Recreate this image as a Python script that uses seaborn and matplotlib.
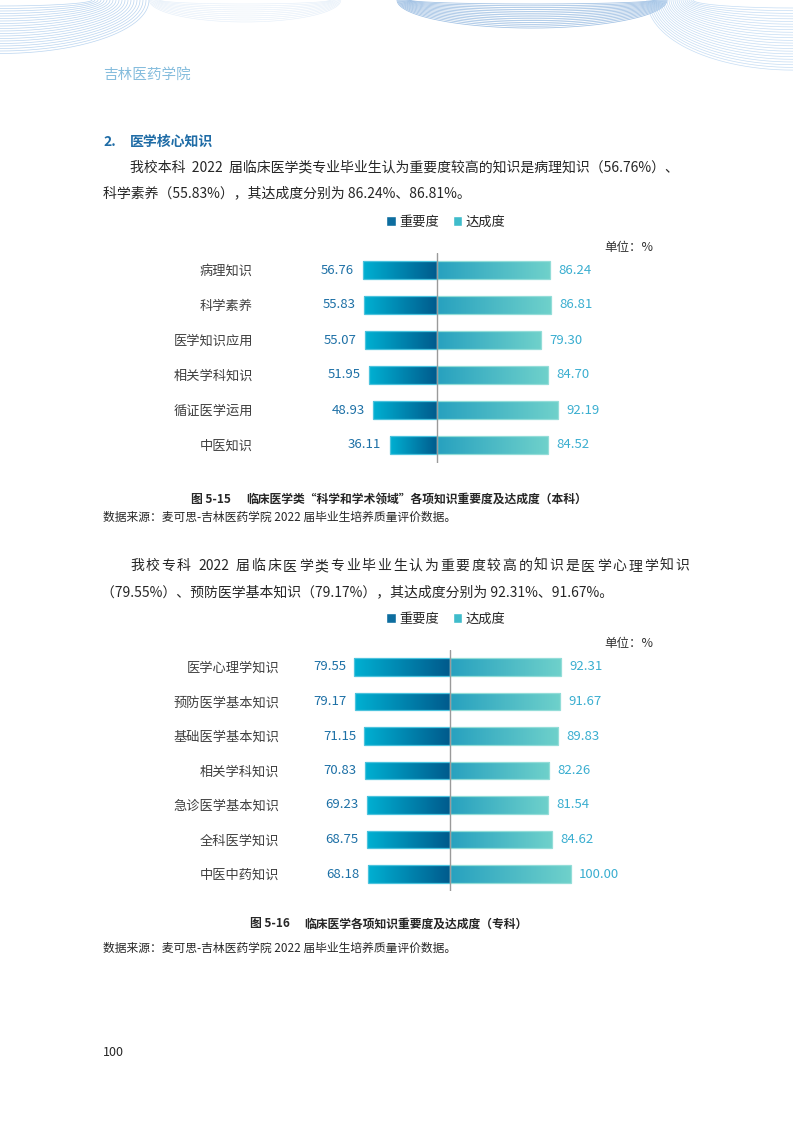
import re
import numpy as np
import pandas as pd
import seaborn as sns
import matplotlib.pyplot as plt
from matplotlib.colors import LinearSegmentedColormap
from matplotlib.patches import Patch

# chart data (本科 / 专科)
cats_1 = ['病理知识', '科学素养', '医学知识应用', '相关学科知识', '循证医学运用', '中医知识']
imp_1 = [56.76, 55.83, 55.07, 51.95, 48.93, 36.11]
ach_1 = [86.24, 86.81, 79.30, 84.70, 92.19, 84.52]

cats_2 = ['医学心理学知识', '预防医学基本知识', '基础医学基本知识', '相关学科知识',
          '急诊医学基本知识', '全科医学知识', '中医中药知识']
imp_2 = [79.55, 79.17, 71.15, 70.83, 69.23, 68.75, 68.18]
ach_2 = [92.31, 91.67, 89.83, 82.26, 81.54, 84.62, 100.00]

legend_labels = ['重要度', '达成度']

sns.set_theme(style='white')
plt.rcParams['font.family'] = ['Noto Sans CJK SC', 'DejaVu Sans']

W, H = 793, 1122
fig = plt.figure(figsize=(W / 100, H / 100), dpi=100)
fig.patch.set_facecolor('white')


def fx(x):
    return x / W


def fy(y):
    return 1 - y / H


# decorative waves at the top of the page
bg = fig.add_axes([0, 0, 1, 1], zorder=-5)
bg.set_xlim(0, W)
bg.set_ylim(H, 0)
bg.axis('off')
q = np.linspace(0, np.pi / 2, 200)
half = np.linspace(0, np.pi, 300)
# top-left fan
for k in range(20):
    a, b = 92 + k * 3.0, 6 + k * 2.5
    bg.plot(a * np.sin(q), b * np.cos(q), color='#a9caec', lw=0.5, alpha=0.8)
# faint middle arcs
for k in range(10):
    a, b = 85 + k * 1.2, 4 + k * 2.0
    bg.plot(245 + a * np.cos(half), b * np.sin(half), color='#cfe1f4', lw=0.4, alpha=0.6)
# bowl at the top right
for k in range(14):
    a, b = 122 + k * 1.0, 4 + k * 1.85
    bg.plot(532 + a * np.cos(half), b * np.sin(half), color='#8db4de', lw=0.55, alpha=0.85)
# streaks at the right edge
for k in range(24):
    a, b = 100 + k * 2.0, 8 + k * 2.7
    bg.plot(W - a * np.sin(q), b * np.cos(q), color='#b7d4f1', lw=0.5, alpha=0.8)

body_col = '#262626'


def justified(x0, x1, y, s, fontsize, **kw):
    # spread a line over x0..x1 like the justified source text
    tokens = re.findall(r'[0-9A-Za-z.%]+|.', s)
    renderer = fig.canvas.get_renderer()
    em = fontsize * 100 / 72
    items = []
    for tok in tokens:
        if tok == ' ':
            items.append((None, em * 0.25))
        elif tok.isascii():
            t = fig.text(0, fy(y), tok, va='center', ha='left', fontsize=fontsize, **kw)
            items.append((t, t.get_window_extent(renderer).width))
        else:
            t = fig.text(0, fy(y), tok, va='center', ha='center', fontsize=fontsize, **kw)
            items.append((t, em))
    gap = (x1 - x0 - sum(w for _, w in items)) / (len(items) - 1)
    x = x0
    for t, w in items:
        if t is not None:
            t.set_x(fx(x + w / 2) if t.get_ha() == 'center' else fx(x))
        x += w + gap


# page text
fig.text(fx(103), fy(75), '吉林医药学院', fontsize=10.5, color='#86bddd', va='center')
fig.text(fx(103), fy(142), '2.', fontsize=10, color='#1f6ca6', weight='bold', va='center')
fig.text(fx(130), fy(142), '医学核心知识', fontsize=10, color='#1f6ca6', weight='bold', va='center')
fig.text(fx(130), fy(167), '我校本科  2022  届临床医学类专业毕业生认为重要度较高的知识是病理知识（56.76%）、',
         fontsize=10, color=body_col, va='center')
fig.text(fx(103), fy(193), '科学素养（55.83%），其达成度分别为 86.24%、86.81%。',
         fontsize=10, color=body_col, va='center')

fig.text(fx(191), fy(499), '图 5-15', fontsize=8.5, weight='bold', color=body_col, va='center')
fig.text(fx(246), fy(499), '临床医学类“科学和学术领域”各项知识重要度及达成度（本科）',
         fontsize=8.5, weight='bold', color=body_col, va='center')
fig.text(fx(103), fy(517), '数据来源：麦可思-吉林医药学院 2022 届毕业生培养质量评价数据。',
         fontsize=8.5, color=body_col, va='center')

justified(130, 689, 566, '我校专科 2022 届临床医学类专业毕业生认为重要度较高的知识是医学心理学知识',
          10, color=body_col)
fig.text(fx(101), fy(592), '（79.55%）、预防医学基本知识（79.17%），其达成度分别为 92.31%、91.67%。',
         fontsize=10, color=body_col, va='center')

fig.text(fx(250), fy(924), '图 5-16', fontsize=8.5, weight='bold', color=body_col, va='center')
fig.text(fx(304), fy(924), '临床医学各项知识重要度及达成度（专科）',
         fontsize=8.5, weight='bold', color=body_col, va='center')
fig.text(fx(103), fy(948), '数据来源：麦可思-吉林医药学院 2022 届毕业生培养质量评价数据。',
         fontsize=8.5, color=body_col, va='center')
fig.text(fx(103), fy(1052), '100', fontsize=9, color=body_col, va='center')


def gradient_bar(ax, patch, c_left, c_right, edge):
    bb = patch.get_bbox()
    x0, x1 = sorted([bb.x0, bb.x1])
    y0, y1 = sorted([bb.y0, bb.y1])
    cmap = LinearSegmentedColormap.from_list('g', [c_left, c_right])
    grad = np.linspace(0, 1, 256).reshape(1, -1)
    im = ax.imshow(grad, cmap=cmap, extent=[x0, x1, y0, y1], aspect='auto',
                   interpolation='bilinear', zorder=1.5)
    im.set_clip_path(patch)
    patch.set_facecolor('none')
    patch.set_edgecolor(edge)
    patch.set_linewidth(0.9)
    patch.set_zorder(2)


def butterfly(cats, imp, ach, top_px, row_px, center_px, scale_px,
              left_px, right_px, label_right_px, legend_y, unit_y):
    n = len(cats)
    ax = fig.add_axes([fx(left_px), fy(top_px + n * row_px),
                       (right_px - left_px) / W, n * row_px / H])
    df = pd.DataFrame({'cat': cats, 'imp': -np.array(imp), 'ach': ach})
    sns.barplot(data=df, x='imp', y='cat', order=cats, orient='h', width=0.5,
                color='#0a6a9a', saturation=1, errorbar=None, ax=ax)
    sns.barplot(data=df, x='ach', y='cat', order=cats, orient='h', width=0.5,
                color='#3fbccb', saturation=1, errorbar=None, ax=ax)
    bars = list(ax.patches)
    for p in bars[:n]:
        gradient_bar(ax, p, '#00b0d2', '#005a8c', '#4cc3dd')
    for p in bars[n:]:
        gradient_bar(ax, p, '#27a1bf', '#6fd1cb', '#93ddd8')
    for i in range(n):
        ax.annotate(f'{imp[i]:.2f}', (-imp[i], i), xytext=(-6, 0), textcoords='offset points',
                    ha='right', va='center', fontsize=9.5, color='#1d70a6')
        ax.annotate(f'{ach[i]:.2f}', (ach[i], i), xytext=(6, 0), textcoords='offset points',
                    ha='left', va='center', fontsize=9.5, color='#3aaed0')
    ax.axvline(0, color='#9a9a9a', lw=1, zorder=5)
    ax.set_xlim((left_px - center_px) / scale_px, (right_px - center_px) / scale_px)
    ax.set_ylim(n - 0.5, -0.5)
    ax.set_xticks([])
    ax.set_xlabel('')
    ax.set_ylabel('')
    for s in ax.spines.values():
        s.set_visible(False)
    ax.tick_params(axis='y', length=0, pad=(left_px - label_right_px) * 0.72,
                   labelsize=9.5, labelcolor='#404040')
    ax.set_facecolor('none')
    fig.legend(handles=[Patch(facecolor='#0d6d9f'), Patch(facecolor='#3fbccb')],
               labels=legend_labels, loc='center', bbox_to_anchor=(fx(446), fy(legend_y)),
               ncol=2, frameon=False, fontsize=9.5, handlelength=0.7, handleheight=0.7,
               handletextpad=0.3, columnspacing=1.0, borderpad=0)
    fig.text(fx(604), fy(unit_y), '单位：%', fontsize=9, color='#333333', va='center')
    return ax


butterfly(cats_1, imp_1, ach_1, 252.5, 35, 437, 1.31, 266, 700, 253, 222, 247)
butterfly(cats_2, imp_2, ach_2, 649.75, 34.5, 450, 1.205, 282, 700, 279, 619, 643)

fig.savefig('out.png', dpi=100)
